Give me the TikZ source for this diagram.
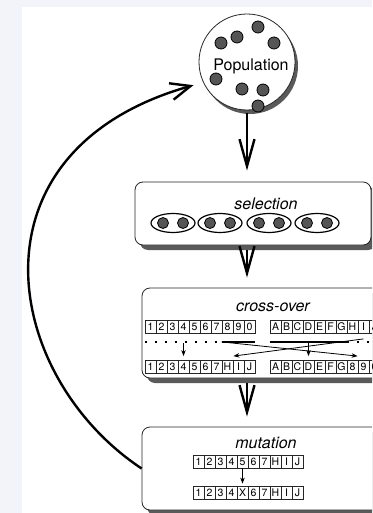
\documentclass[tikz,border=0pt]{standalone}
\usepackage{fontspec}
\setsansfont{TeX Gyre Heros}
\usepackage{tikz}
\usetikzlibrary{arrows.meta,backgrounds,calc,positioning,shadows,shapes.geometric}
\definecolor{pagebg}{HTML}{F3F4F9}
\definecolor{dotgray}{HTML}{555555}
\definecolor{shadowgray}{HTML}{5A5A5A}
% one chromosome: name, west end, genes
\newcommand{\genes}[3]{%
  \foreach \g [count=\i] in {#3}
    \node[gene] (#1\i) at ($(#2)+(\i*11-5.5,0)$) {\g};
}

\begin{document}
\begin{tikzpicture}[x=1pt,y=-1pt,line width=0.8pt]
  \tikzstyle{ball} = [circle,draw=black,fill=dotgray,minimum size=12pt,inner sep=0pt];
  \tikzstyle{pair} = [ellipse,draw=black,line width=1.2pt,minimum width=44pt,minimum height=19pt,inner sep=0pt];
  \tikzstyle{stage} = [draw=black!85,fill=white,rounded corners=8pt,inner sep=0pt,
    drop shadow={shadow xshift=5pt,shadow yshift=-5pt,fill=shadowgray,opacity=1}];
  \tikzstyle{gene} = [draw=black!85,minimum width=11pt,minimum height=13pt,inner sep=0pt,
    font=\sffamily\fontsize{10.5}{10.5}\selectfont];
  \tikzstyle{title} = [font=\sffamily\itshape\fontsize{16}{16}\selectfont];
  \tikzset{flow/.style={line width=2.4pt,-{Straight Barb[length=27pt,width=15pt]}},
    hop/.style={line width=0.8pt,-{Stealth[length=6pt,width=4.5pt]}},
    cut/.style={line width=2pt},
    kept/.style={line width=2pt,dash pattern=on 2pt off 8pt}};
  \useasboundingbox (0,0) rectangle (372,513);
  \fill[pagebg] (0,0) rectangle (372,513);
  \fill[white] (22,7) rectangle (372,513);
  \clip (0,0) rectangle (372,513);
  % population
  \node[circle,draw=black!85,fill=white,minimum size=96pt,inner sep=0pt,
    drop shadow={shadow xshift=3pt,shadow yshift=-4pt,fill=shadowgray,opacity=1}] (pop) at (247,62) {};
  \node[font=\sffamily\fontsize{16}{16}\selectfont] (poplabel) at (251,66.5) {Population};
  \foreach \x/\y [count=\i] in {258/27,237/37,221/43,274/43,216/79,242/89,263/90,258/106}
    \node[ball] (p\i) at (\x,\y) {};
  % selection
  \node[stage,minimum width=236pt,minimum height=63pt] (sel) at (253,213.5) {};
  \node[title] (sellabel) at (266,203.5) {selection};
  \foreach \x [count=\i] in {173,220,269,317} {
    \node[pair] (pair\i) at (\x,223) {};
    \node[ball,minimum size=11pt] (pair\i l) at ([xshift=-10pt]pair\i.center) {};
    \node[ball,minimum size=11pt] (pair\i r) at ([xshift=10pt]pair\i.center) {};
  }
  % cross-over
  \node[stage,minimum width=250pt,minimum height=90pt] (cross) at (267,333) {};
  \node[title] (crosslabel) at (273,307) {cross-over};
  \genes{pa}{145,327}{1,2,3,4,5,6,7,8,9,0}
  \genes{pb}{270,327}{A,B,C,D,E,F,G,H,I,J}
  \genes{ca}{145,367}{1,2,3,4,5,6,7,H,I,J}
  \genes{cb}{270,367}{A,B,C,D,E,F,G,8,9,0}
  \draw[kept] ([yshift=-8pt]pa1.south west) -- ([yshift=-8pt]pa7.south east);
  \draw[cut] ([yshift=-8pt]pa8.south west) -- ([yshift=-8pt]pa10.south east);
  \draw[cut] ([yshift=-8pt]pb1.south west) -- ([yshift=-8pt]pb7.south east);
  \draw[kept] ([yshift=-8pt]pb8.south west) -- ([yshift=-8pt]pb10.south east);
  \draw[hop] ([yshift=-9pt]pa4.south) -- ([yshift=4pt]ca4.north);
  \draw[hop] ([yshift=-9pt]pb4.south) -- ([yshift=4pt]cb4.north);
  \draw[hop] ([yshift=-8pt]pa8.south west) -- ([yshift=4pt]cb9.north west);
  \draw[hop] ([yshift=-5pt]pb9.south) -- ([yshift=4pt]ca8.north east);
  % mutation
  \node[stage,minimum width=250pt,minimum height=83pt] (mut) at (267,468.5) {};
  \node[title] (mutlabel) at (266,442.5) {mutation};
  \genes{ma}{193,461.5}{1,2,3,4,5,6,7,H,I,J}
  \genes{mb}{193,492.5}{1,2,3,4,X,6,7,H,I,J}
  \draw[hop] (ma5.south) -- ([yshift=2pt]mb5.north);
  % flow
  \draw[flow,shorten <=3pt,shorten >=11pt] (pop.south) -- (pop.south |- sel.north);
  \draw[flow,shorten <=5pt,shorten >=10pt] (sel.south -| pop.south) -- (cross.north -| pop.south);
  \draw[flow,shorten <=5pt,shorten >=10pt] (cross.south -| pop.south) -- (mut.north -| pop.south);
  \draw[line width=2.4pt,-{Straight Barb[length=20pt,width=17pt]},shorten >=10pt]
    (mut.west) .. controls +(-140,-93) and +(-240,68) .. (pop.205);
\end{tikzpicture}
\end{document}
